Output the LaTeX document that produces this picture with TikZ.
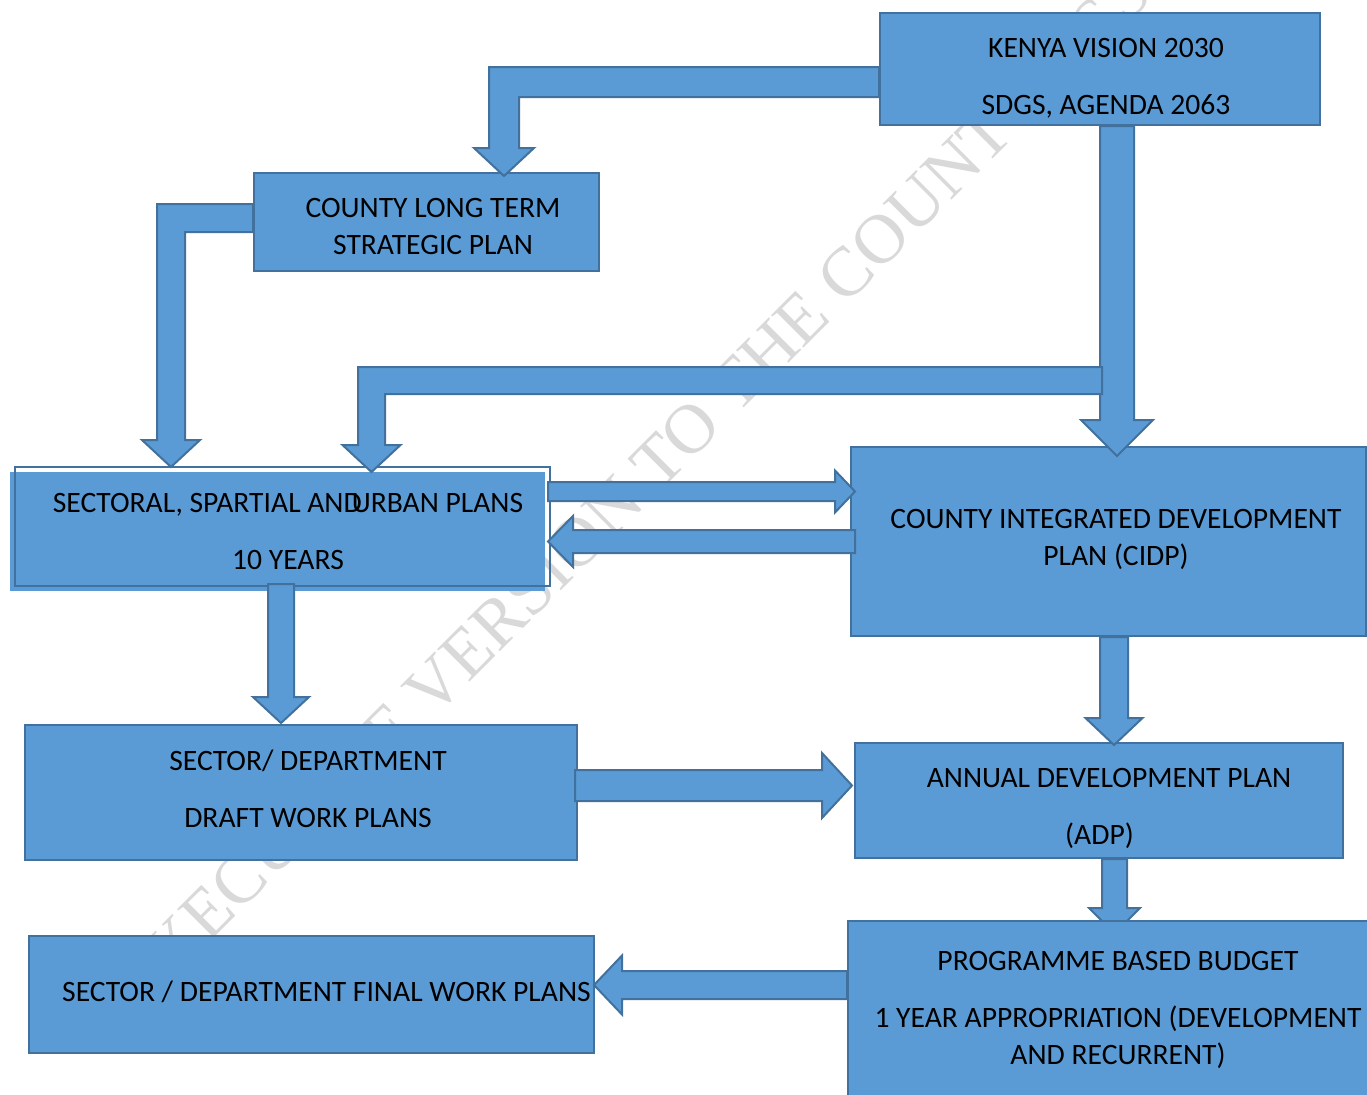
\documentclass[tikz,border=0pt]{standalone}
\usepackage{fontspec}
\setmainfont{Carlito}
\newfontfamily\wmfont{Liberation Serif}
\usetikzlibrary{calc}

\definecolor{boxblue}{HTML}{5B9BD5}
\definecolor{boxedge}{HTML}{41719C}
\definecolor{wmgray}{HTML}{D9D9D9}

% frecce a blocco: #1 partenza, #2 punta, #3 mezzo fusto, #4 mezza punta, #5 lunghezza punta
\newcommand{\downblock}[5]{%
  \filldraw[blockarrow] let \p1=(#1), \p2=(#2) in
    (\x2-#3,\y1) -- (\x2+#3,\y1) -- (\x2+#3,\y2+#5) -- (\x2+#4,\y2+#5)
    -- (\x2,\y2) -- (\x2-#4,\y2+#5) -- (\x2-#3,\y2+#5) -- cycle;}
\newcommand{\rightblock}[5]{%
  \filldraw[blockarrow] let \p1=(#1), \p2=(#2) in
    (\x1,\y2+#3) -- (\x2-#5,\y2+#3) -- (\x2-#5,\y2+#4) -- (\x2,\y2)
    -- (\x2-#5,\y2-#4) -- (\x2-#5,\y2-#3) -- (\x1,\y2-#3) -- cycle;}
\newcommand{\leftblock}[5]{%
  \filldraw[blockarrow] let \p1=(#1), \p2=(#2) in
    (\x1,\y2+#3) -- (\x2+#5,\y2+#3) -- (\x2+#5,\y2+#4) -- (\x2,\y2)
    -- (\x2+#5,\y2-#4) -- (\x2+#5,\y2-#3) -- (\x1,\y2-#3) -- cycle;}
\newcommand{\benddown}[5]{%
  \filldraw[blockarrow] let \p1=(#1), \p2=(#2) in
    (\x1,\y1+#3) -- (\x2-#3,\y1+#3) -- (\x2-#3,\y2+#5) -- (\x2-#4,\y2+#5)
    -- (\x2,\y2) -- (\x2+#4,\y2+#5) -- (\x2+#3,\y2+#5) -- (\x2+#3,\y1-#3)
    -- (\x1,\y1-#3) -- cycle;}

\begin{document}
\begin{tikzpicture}[x=0.5pt, y=-0.5pt,
    box/.style={rectangle, draw=boxedge, fill=boxblue, line width=1pt, inner sep=0pt},
    boxtext/.style={align=center, inner sep=0pt, font=\fontsize{14.8}{18.5}\selectfont},
    blockarrow/.style={draw=boxedge, fill=boxblue, line width=1pt, line join=miter}]
    \useasboundingbox (0,0) rectangle (1367,1094);
    \clip (0,0) rectangle (1367,1094);
    \fill[white] (0,0) rectangle (1367,1094);

    % Filigrana
    \node[font=\wmfont\fontsize{35}{35}\selectfont, text=wmgray, rotate=45, anchor=base]
        (watermark) at (733,419) {EXECUTIVE VERSION TO THE COUNTY ASSEMBLY};

    % Riquadri
    \node[box, minimum width=220pt, minimum height=56pt] (kenya) at (1100,69) {};
    \node[box, minimum width=172.5pt, minimum height=49pt] (longterm) at (426.5,222) {};
    \node[box, fill=none, preaction={fill=boxblue, transform canvas={xshift=-2.5pt, yshift=-2.5pt}},
        minimum width=267.5pt, minimum height=59.5pt] (sectoral) at (282.5,526.5) {};
    \node[box, minimum width=257.5pt, minimum height=94.5pt] (cidp) at (1108.5,541.5) {};
    \node[box, minimum width=276pt, minimum height=67.5pt] (draft) at (301,792.5) {};
    \node[box, minimum width=244pt, minimum height=57.5pt] (adp) at (1099,800.5) {};
    \node[box, minimum width=282.5pt, minimum height=58.5pt] (final) at (311.5,994.5) {};

    % Testi
    \node[boxtext] (kenya-text) at ($(kenya.center)+(6,9.5)$)
        {KENYA VISION 2030\\[10pt]SDGS, AGENDA 2063};
    \node[boxtext] (longterm-text) at ($(longterm.center)+(6.5,4.5)$)
        {COUNTY LONG TERM\\STRATEGIC PLAN};
    \node[boxtext] (sectoral-text) at ($(sectoral.center)+(5.5,5)$)
        {SECTORAL, SPARTIAL AND\hspace{-0.34em}URBAN PLANS\\[10pt]10 YEARS};
    \node[boxtext] (cidp-text) at ($(cidp.center)+(7.5,-2)$)
        {COUNTY INTEGRATED DEVELOPMENT\\PLAN (CIDP)};
    \node[boxtext] (draft-text) at ($(draft.center)+(7,-4)$)
        {SECTOR/ DEPARTMENT\\[10pt]DRAFT WORK PLANS};
    \node[boxtext] (adp-text) at ($(adp.center)+(10,8)$)
        {ANNUAL DEVELOPMENT PLAN\\[10pt](ADP)\hbox to 9.5pt{}};
    \node[boxtext] (final-text) at ($(final.center)+(15,-2.5)$)
        {SECTOR / DEPARTMENT FINAL WORK PLANS};

    % Frecce
    \benddown{$(kenya.west)+(0,13)$}{$(longterm.north)+(77.5,4)$}{7.5pt}{15pt}{14pt}
    \benddown{$(longterm.west)+(0,-4)$}{$(sectoral.north)+(-111.5,1)$}{7pt}{14.5pt}{13.5pt}
    \downblock{kenya.south}{$(cidp.north)+(8.5,10)$}{8.5pt}{18pt}{18pt}
    \coordinate (branch) at ($(kenya.south)+(2,254.5)$);
    \benddown{branch}{$(sectoral.north)+(89,6)$}{6.75pt}{14.5pt}{13.5pt}
    \rightblock{$(sectoral.east)+(-3,0)$}{$(cidp.west)+(5,-50)$}{4.75pt}{10.5pt}{10pt}
    \leftblock{$(cidp.west)+(5,0)$}{$(sectoral.east)+(-3,15)$}{5.75pt}{12.75pt}{12.5pt}
    \downblock{$(sectoral.south)+(0,-3)$}{$(draft.north)+(-20,-1)$}{6.5pt}{14pt}{13pt}
    \rightblock{$(draft.east)+(-3,0)$}{$(adp.west)+(-2,-15)$}{7.75pt}{16.25pt}{15pt}
    \downblock{cidp.south}{$(adp.north)+(15,3)$}{7pt}{14.25pt}{13.5pt}
    \downblock{adp.south}{$(adp.south)+(15.5,74.5)$}{6.25pt}{12.75pt}{12.75pt}

    \node[box, minimum width=265pt, minimum height=90pt] (programme) at (1113,1011) {};
    \node[boxtext] (programme-text) at ($(programme.center)+(5,-1)$)
        {PROGRAMME BASED BUDGET\\[10pt]1 YEAR APPROPRIATION (DEVELOPMENT\\AND RECURRENT)};
    \leftblock{programme.west}{$(final.east)+(-1,-9.5)$}{7pt}{14.75pt}{14pt}
\end{tikzpicture}
\end{document}
